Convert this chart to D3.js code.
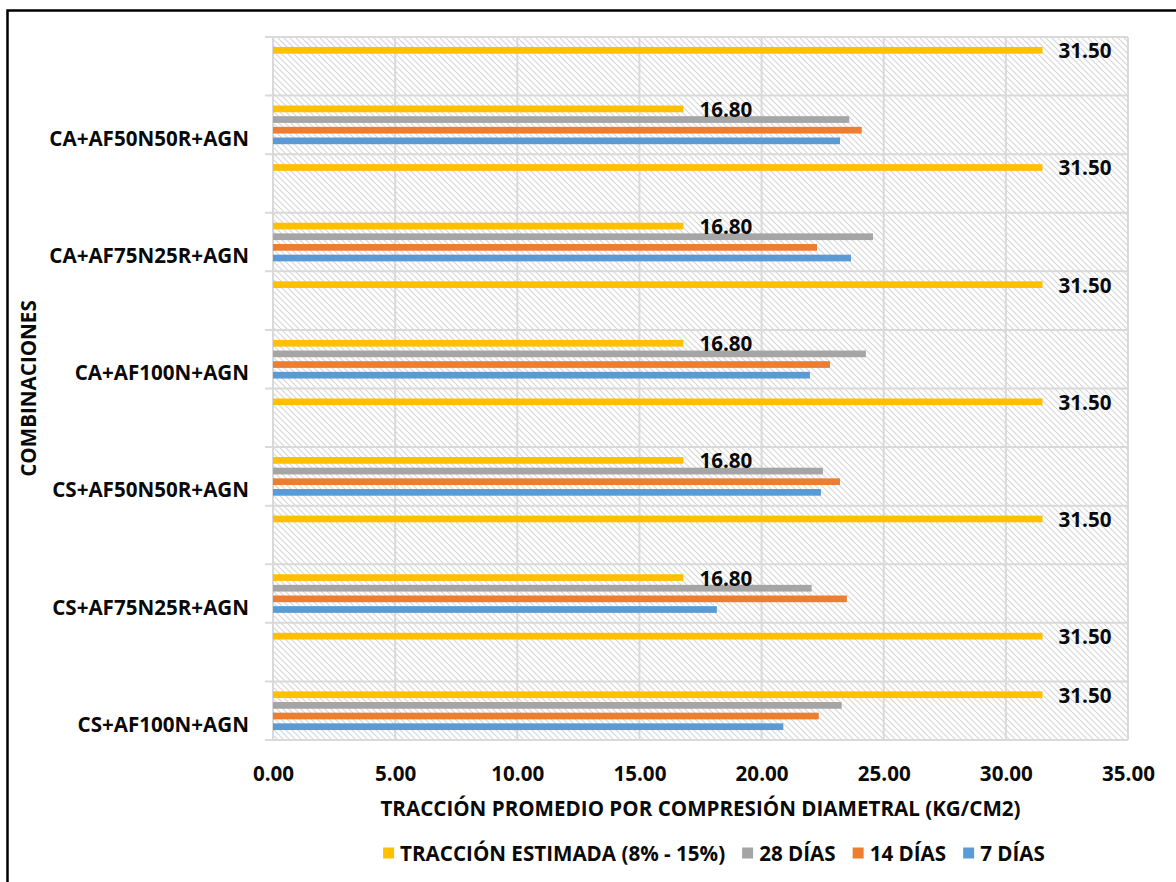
<!DOCTYPE html>
<html>
<head>
<meta charset="utf-8">
<script src="https://cdn.jsdelivr.net/npm/d3@7"></script>
<style>
  html, body { margin: 0; padding: 0; background: #fff; }
  svg { display: block; }
  text { font-family: "Open Sans", "Liberation Sans", sans-serif; font-weight: 700; fill: #0a0a0a; }
</style>
</head>
<body>
<svg id="chart" width="1176" height="882"></svg>
<script>
// Combinations, listed from the bottom of the chart to the top
const combinaciones = ["CS+AF100N+AGN", "CS+AF75N25R+AGN", "CS+AF50N50R+AGN",
                       "CA+AF100N+AGN", "CA+AF75N25R+AGN", "CA+AF50N50R+AGN"];
// Average splitting tensile strength (kg/cm2)
const dias7  = [20.89, 18.17, 22.43, 21.98, 23.66, 23.21];
const dias14 = [22.34, 23.49, 23.21, 22.80, 22.27, 24.10];
const dias28 = [23.28, 22.05, 22.51, 24.27, 24.56, 23.59];
// Estimated tension: value shown inside each group, and the upper limit row above it
const traccionGrupo  = [31.50, 16.80, 16.80, 16.80, 16.80, 16.80];
const traccionLimite = [31.50, 31.50, 31.50, 31.50, 31.50, 31.50];
const xTicks = [0, 5, 10, 15, 20, 25, 30, 35];

const seriesKeys = ["est", "d28", "d14", "d7"];
const seriesColor = { est: "#ffc000", d28: "#a5a5a5", d14: "#ed7d31", d7: "#5b9bd5" };
const legendItems = [
  { key: "est", label: "TRACCIÓN ESTIMADA (8% - 15%)" },
  { key: "d28", label: "28 DÍAS" },
  { key: "d14", label: "14 DÍAS" },
  { key: "d7",  label: "7 DÍAS" }
];

// Build rows from top to bottom: each combination has a limit row and a group row
const rows = [];
for (let i = combinaciones.length - 1; i >= 0; i--) {
  rows.push({ id: "lim" + i, label: "", bars: [{ key: "est", v: traccionLimite[i], lbl: true }] });
  rows.push({ id: "grp" + i, label: combinaciones[i], bars: [
    { key: "est", v: traccionGrupo[i], lbl: true },
    { key: "d28", v: dias28[i] },
    { key: "d14", v: dias14[i] },
    { key: "d7",  v: dias7[i] }
  ]});
}

const svg = d3.select("#chart");
const plot = { left: 273, right: 1128, top: 37, bottom: 740 };
const gridColor = "#d9d9d9";
const fs = 20.6;

const x = d3.scaleLinear().domain([0, 35]).range([plot.left, plot.right]);
const y = d3.scaleBand().domain(rows.map(r => r.id)).range([plot.top, plot.bottom]).padding(0);
const yInner = d3.scaleBand().domain(seriesKeys).range([0, y.bandwidth()])
  .paddingInner(0.37).paddingOuter(0.935);

// Hatched plot background
const defs = svg.append("defs");
const pat = defs.append("pattern").attr("id", "hatch")
  .attr("patternUnits", "userSpaceOnUse").attr("width", 6).attr("height", 6);
pat.append("rect").attr("width", 6).attr("height", 6).attr("fill", "#fff");
pat.append("path").attr("d", "M-1,-1 L7,7 M-1,5 L1,7 M5,-1 L7,1")
  .attr("stroke", "#d6d6d6").attr("stroke-width", 1.1);

// Outer chart border (top and left edges)
svg.append("path").attr("d", "M7.5,882 L7.5,10.5 L1176,10.5")
  .attr("fill", "none").attr("stroke", "#000").attr("stroke-width", 2.5);

svg.append("rect")
  .attr("x", plot.left).attr("y", plot.top)
  .attr("width", plot.right - plot.left).attr("height", plot.bottom - plot.top)
  .attr("fill", "url(#hatch)");

// Vertical gridlines
svg.append("g").selectAll("line").data(xTicks).join("line")
  .attr("x1", d => x(d)).attr("x2", d => x(d))
  .attr("y1", plot.top).attr("y2", plot.bottom)
  .attr("stroke", gridColor).attr("stroke-width", 2);

// Row separators with small tick marks on the category axis
const boundaries = rows.map(r => y(r.id)).concat([plot.bottom]);
svg.append("g").selectAll("line").data(boundaries).join("line")
  .attr("x1", plot.left - 8).attr("x2", plot.right)
  .attr("y1", d => d).attr("y2", d => d)
  .attr("stroke", gridColor).attr("stroke-width", 2);

// Bars
const rowG = svg.append("g").selectAll("g").data(rows).join("g")
  .attr("transform", r => `translate(0,${y(r.id)})`);

rowG.selectAll("rect").data(r => r.bars).join("rect")
  .attr("x", x(0))
  .attr("y", b => yInner(b.key))
  .attr("width", b => x(b.v) - x(0))
  .attr("height", yInner.bandwidth())
  .attr("fill", b => seriesColor[b.key]);

// Value labels on the estimated-tension bars
rowG.selectAll("text.val").data(r => r.bars.filter(b => b.lbl)).join("text")
  .attr("class", "val")
  .attr("x", b => x(b.v) + 16)
  .attr("y", b => yInner(b.key) + yInner.bandwidth() / 2)
  .attr("dominant-baseline", "central")
  .attr("font-size", fs)
  .text(b => b.v.toFixed(2));

// Category labels
svg.append("g").selectAll("text").data(rows.filter(r => r.label)).join("text")
  .attr("x", 249)
  .attr("y", r => y(r.id) + yInner("d7") + yInner.bandwidth() / 2 - 3)
  .attr("text-anchor", "end")
  .attr("dominant-baseline", "central")
  .attr("font-size", fs)
  .text(r => r.label);

// X axis tick labels
const xAxis = d3.axisBottom(x).tickValues(xTicks).tickFormat(d3.format(".2f")).tickSize(0).tickPadding(0);
const gx = svg.append("g").attr("transform", `translate(0,${plot.bottom})`).call(xAxis);
gx.select(".domain").remove();
gx.selectAll("text")
  .attr("y", 33).attr("dy", null)
  .attr("dominant-baseline", "central")
  .attr("font-size", fs)
  .attr("font-family", "'Open Sans', 'Liberation Sans', sans-serif")
  .attr("font-weight", 700)
  .attr("fill", "#0a0a0a");

// Axis titles
svg.append("text")
  .attr("x", (plot.left + plot.right) / 2).attr("y", 808)
  .attr("text-anchor", "middle").attr("dominant-baseline", "central")
  .attr("font-size", fs)
  .text("TRACCIÓN PROMEDIO POR COMPRESIÓN DIAMETRAL (KG/CM2)");

svg.append("text")
  .attr("transform", `translate(28,${(plot.top + plot.bottom) / 2}) rotate(-90)`)
  .attr("text-anchor", "middle").attr("dominant-baseline", "central")
  .attr("font-size", fs)
  .text("COMBINACIONES");

// Legend
const legend = svg.append("g");
const sq = 11, gapSq = 6, gapItem = 17;
let lx = 0;
legendItems.forEach(item => {
  const g = legend.append("g").attr("transform", `translate(${lx},0)`);
  g.append("rect").attr("x", 0).attr("y", -sq / 2).attr("width", sq).attr("height", sq)
    .attr("fill", seriesColor[item.key]);
  const t = g.append("text").attr("x", sq + gapSq).attr("y", 0)
    .attr("dominant-baseline", "central").attr("font-size", fs).text(item.label);
  lx += sq + gapSq + t.node().getComputedTextLength() + gapItem;
});
const legendW = lx - gapItem;
legend.attr("transform", `translate(${714 - legendW / 2},853)`);
</script>
</body>
</html>
